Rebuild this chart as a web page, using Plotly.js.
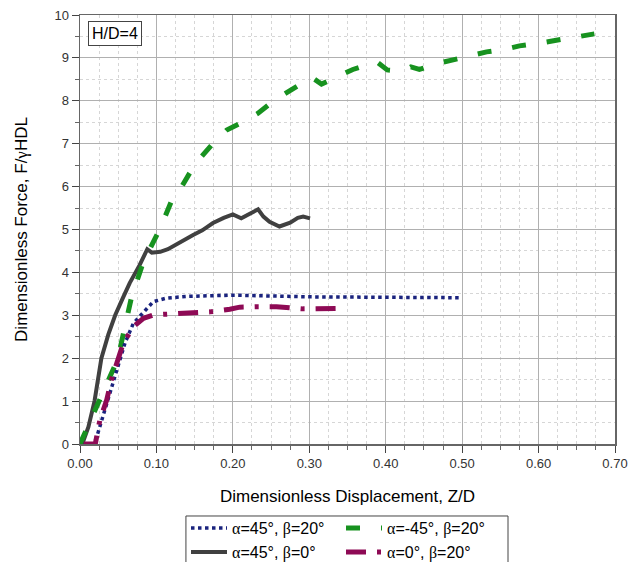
<!DOCTYPE html>
<html><head><meta charset="utf-8">
<script src="https://cdn.plot.ly/plotly-3.0.1.min.js"></script>
<style>html,body{margin:0;padding:0;background:#fff}#chart{width:631px;height:562px}</style>
</head><body><div id="chart"></div>
<script>
// Series data
const blueX = [0.005,0.018,0.022,0.0305,0.0414,0.050,0.0588,0.0697,0.083,0.096,0.113,0.14,0.20,0.30,0.40,0.497];
const blueY = [0,0,0.17,0.68,1.34,1.88,2.35,2.81,3.08,3.32,3.40,3.44,3.47,3.43,3.42,3.41];

const greenX = [0,0.010,0.0196,0.026,0.039,0.046,0.052,0.059,0.0675,0.083,0.105,0.121,0.133,0.146,0.159,0.176,0.192,0.2135,0.233,0.255,0.2745,0.296,0.303,0.316,0.349,0.357,0.388,0.402,0.415,0.427,0.433,0.444,0.468,0.486,0.510,0.532,0.558,0.575,0.603,0.625,0.651,0.673];
const greenY = [0,0.4,0.79,1.10,1.57,1.84,2.19,2.73,3.43,4.25,5.03,5.72,6.0,6.39,6.70,7.05,7.32,7.51,7.71,8.02,8.24,8.49,8.55,8.39,8.68,8.73,8.91,8.72,8.70,8.73,8.79,8.73,8.87,8.95,9.05,9.14,9.21,9.28,9.35,9.42,9.48,9.56];

const grayX = [0.003,0.011,0.019,0.028,0.037,0.046,0.056,0.065,0.078,0.088,0.094,0.105,0.115,0.130,0.148,0.160,0.174,0.188,0.200,0.211,0.222,0.233,0.240,0.248,0.261,0.275,0.285,0.292,0.301];
const grayY = [0,0.4,1.0,2.0,2.55,3.0,3.4,3.75,4.17,4.54,4.46,4.48,4.54,4.70,4.87,4.98,5.15,5.27,5.35,5.26,5.36,5.47,5.30,5.18,5.07,5.16,5.27,5.30,5.26];

const maroonX = [0.005,0.020,0.026,0.035,0.041,0.048,0.0566,0.0697,0.083,0.096,0.109,0.144,0.170,0.196,0.209,0.231,0.257,0.292,0.336];
const maroonY = [0,0,0.56,1.03,1.49,1.92,2.35,2.73,2.93,3.01,3.02,3.05,3.08,3.14,3.19,3.20,3.20,3.15,3.16];

const names = ['α=45°, β=20°','α=-45°, β=20°','α=45°, β=0°','α=0°, β=20°'];
const xTickVals = [0,0.1,0.2,0.3,0.4,0.5,0.6,0.7];
const xTickText = ['0.00','0.10','0.20','0.30','0.40','0.50','0.60','0.70'];
const yTickVals = [0,1,2,3,4,5,6,7,8,9,10];

const FONT = 'Arial, "Liberation Sans", sans-serif';
const gr = s => s.replace(/([αβγ])/g,'<span style="font-family:\'Liberation Serif\',serif">$1</span>');

const traces = [
  {x: grayX, y: grayY, name: gr(names[2]), mode:'lines', legend:'legend2',
   line:{color:'#404040', width:4}},
  {x: greenX, y: greenY, name: gr(names[1]), mode:'lines', legend:'legend',
   line:{color:'#17921f', width:5, dash:'14px,21px'}},
  {x: blueX, y: blueY, name: gr(names[0]), mode:'lines', legend:'legend',
   line:{color:'#1a237e', width:3.5, dash:'3.5px,3.5px'}},
  {x: maroonX, y: maroonY, name: gr(names[3]), mode:'lines', legend:'legend2',
   line:{color:'#8e0a55', width:5, dash:'20px,11px,4px,11px'}}
];

const axisCommon = {
  showline:true, mirror:true, linecolor:'#666', linewidth:1.5,
  ticks:'outside', ticklen:7, tickcolor:'#444', tickwidth:1,
  showgrid:true, gridcolor:'#b0b0b0', gridwidth:1, zeroline:false,
  tickfont:{family:FONT, size:13, color:'#333'}
};

const legendCommon = {orientation:'h', xref:'container', yref:'container', xanchor:'left', yanchor:'top',
  entrywidth:104, font:{family:FONT, size:16, color:'#000'},
  bgcolor:'rgba(0,0,0,0)', borderwidth:0, itemwidth:36};

const layout = {
  width:631, height:562,
  margin:{l:80, r:16, t:15, b:118, autoexpand:false},
  paper_bgcolor:'#fff', plot_bgcolor:'#fff',
  font:{family:FONT, color:'#000'},
  xaxis: Object.assign({}, axisCommon, {
    range:[0,0.7], tickvals:xTickVals, ticktext:xTickText,
    minor:{dtick:0.025, tick0:0, showgrid:true, gridcolor:'#d6d6d6', griddash:'dot', gridwidth:1, ticks:'outside', ticklen:4, tickcolor:'#666'},
    title:{text:'Dimensionless Displacement, Z/D', font:{family:FONT, size:17, color:'#000'}, standoff:20}
  }),
  yaxis: Object.assign({}, axisCommon, {
    range:[0,10], tickvals:yTickVals,
    minor:{dtick:0.5, tick0:0, showgrid:true, gridcolor:'#d6d6d6', griddash:'dot', gridwidth:1, ticks:'outside', ticklen:4, tickcolor:'#666'},
    title:{text:gr('Dimensionless Force, F/γHDL'), font:{family:FONT, size:17, color:'#000'}, standoff:22}
  }),
  legend: Object.assign({}, legendCommon, {x:186/631, y:1-511/562, traceorder:'reversed'}),
  legend2: Object.assign({}, legendCommon, {x:186/631, y:1-535/562, traceorder:'normal'}),
  shapes:[{type:'rect', xref:'paper', yref:'paper', x0:0.198, x1:0.800, y0:-0.1678, y1:-0.28,
    line:{color:'#444', width:1}, fillcolor:'rgba(0,0,0,0)'}],
  annotations:[{text:'H/D=4', xref:'paper', yref:'paper', x:0.015, y:0.986, xanchor:'left', yanchor:'top',
    showarrow:false, font:{family:FONT, size:16, color:'#000'}, bordercolor:'#444', borderwidth:1, borderpad:3, bgcolor:'#fff'}]
};

Plotly.newPlot('chart', traces, layout, {displayModeBar:false, staticPlot:true});
</script></body></html>
